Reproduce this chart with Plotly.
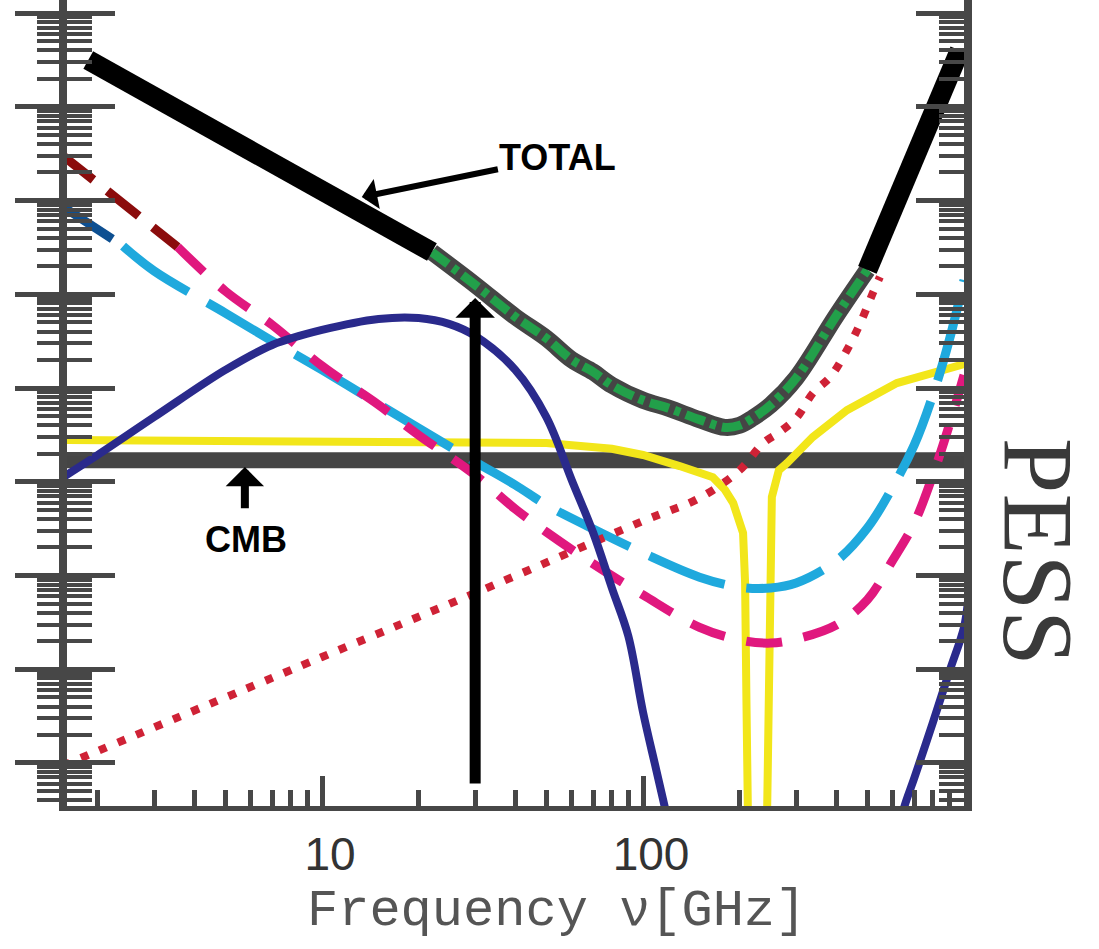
import math
import plotly.graph_objects as go

# ---------------- data ----------------
freq_total = [1.87, 5, 10, 20, 22, 30, 40, 50, 60, 70, 80, 100, 120, 150, 180, 200,
              220, 250, 300, 400, 500, 600, 700, 800, 900, 970]
total = [3.16e7, 4.75e6, 1.26e6, 3.31e5, 2.82e5, 1.26e5, 5.75e4, 3.39e4, 2.0e4, 1.48e4,
         1.07e4, 7.4e3, 6.1e3, 4.6e3, 3.8e3, 4.0e3, 4.8e3, 6.6e3, 1.28e4, 5.9e4, 1.82e5,
         7.9e5, 2.7e6, 8.2e6, 2.1e7, 4.0e7]

freq_ff = [1.55, 2, 3, 3.55, 5, 7, 10, 15, 20, 30, 40, 50, 70, 100, 150, 200, 250, 300,
           400, 500, 600, 700, 800, 900, 1000]
free_free = [3.06e6, 1.5e6, 5.1e5, 3.2e5, 1.08e5, 4.7e4, 1.72e4, 6.6e3, 3.15e3, 1.18e3,
             512, 291, 133, 62, 28, 20.5, 19, 21, 29.6, 55, 146, 363, 1.18e3, 4.03e3, 1.38e4]

freq_ame = [1.55, 2, 2.4, 3, 5, 7, 10, 15, 20, 30, 40, 50, 70, 100, 150, 200, 250, 300,
            400, 500, 600, 700, 800, 900, 1000]
ame = [8.7e5, 5.1e5, 3.27e5, 1.77e5, 6.3e4, 3.17e4, 1.56e4, 6.75e3, 3.74e3, 1.63e3, 923,
       565, 313, 174, 96, 75, 73.6, 83, 143, 321, 879, 2.47e3, 8.4e3, 3.25e4, 1.42e5]

freq_sync = [1.55, 2, 3, 5, 7, 10, 15, 20, 25, 30, 40, 50, 60, 70, 80, 90, 100, 110, 120]
sync = [1.1e3, 1.93e3, 4.9e3, 1.56e4, 2.88e4, 4.16e4, 5.45e4, 5.58e4, 4.8e4, 3.59e4,
        1.56e4, 4.9e3, 1.04e3, 284, 73.6, 22.6, 3.5, 0.84, 0.23]

freq_sync_hi = [630, 650, 700, 800, 900, 1000, 1030]
sync_hi = [0.19, 0.33, 0.69, 2.7, 9.4, 28, 55]

freq_yel = [1.55, 10, 30, 50, 80, 100, 130, 165, 180, 191, 205, 208, 210, 212, 215, 240,
            244, 246, 249, 252, 265, 281, 338, 432, 618, 1030]
yellow = [2.79e3, 2.72e3, 2.65e3, 2.59e3, 2.25e3, 1.93e3, 1.47e3, 1.12e3, 820, 593, 284,
          83, 4.7, 0.3, 0.01, 0.01, 0.3, 7.7, 146, 688, 1.33e3, 1.58e3, 3.0e3, 5.8e3,
          1.13e4, 1.85e4]

freq_dust = [1.55, 10, 30, 100, 150, 200, 237, 267, 302, 338, 383, 432, 475, 520, 547]
dust = [0.93, 13.5, 65, 381, 671, 1.33e3, 2.59e3, 3.4e3, 4.9e3, 8.8e3, 1.31e4, 2.54e4,
        4.9e4, 1.03e5, 1.53e5]

freq_cmb = [1.55, 1030]
cmb = [1.7e3, 1.7e3]

x_tick_vals = [10, 100, 1000]
x_tick_text = ["10", "100", ""]

# ---------------- styling ----------------
AX = "#474747"
fig = go.Figure()


def add(x, y, color, width, dash=None, shape="linear"):
    fig.add_trace(go.Scatter(x=x, y=y, mode="lines", hoverinfo="skip", showlegend=False,
                             line=dict(color=color, width=width, dash=dash, shape=shape)))


def part(xs, ys, lo, hi):
    pts = [(a, b) for a, b in zip(xs, ys) if lo <= a <= hi]
    return [p[0] for p in pts], [p[1] for p in pts]


add(freq_cmb, cmb, "#454545", 16)
add(freq_yel, yellow, "#f2e61a", 8)
x1, y1 = part(freq_ame, ame, 0, 2.4)
add(x1, y1, "#0d4f91", 9, "60px,22px")
x2, y2 = part(freq_ame, ame, 2.4, 2000)
add(x2, y2, "#1fa9dd", 9, "80px,22px", "spline")
x1, y1 = part(freq_ff, free_free, 0, 3.55)
add(x1, y1, "#8b0c0c", 9, "40px,18px")
x2, y2 = part(freq_ff, free_free, 3.55, 2000)
add(x2, y2, "#e0187e", 9, "36px,22px", "spline")
add(freq_dust, dust, "#cf2236", 8, "8px,12px", "spline")
add(freq_sync, sync, "#2a2a8c", 8, None, "spline")
add(freq_sync_hi, sync_hi, "#2a2a8c", 8, None, "spline")
# total
xm, ym = part(freq_total, total, 22, 500)
add(xm, ym, "#454545", 17, None, "spline")
add(xm, ym, "#22a04a", 9, "20px,6px,6px,6px", "spline")
xl, yl = part(freq_total, total, 0, 22)
add(xl, yl, "#000000", 20)
xr, yr = part(freq_total, total, 500, 2000)
add(xr, yr, "#000000", 20)

# ---------------- axes ----------------
x_minor = [m * 10 ** k for k in range(0, 3) for m in range(2, 10)]
y_major = [10.0 ** k for k in range(0, 9)]
y_minor = [m * 10.0 ** k for k in range(-1, 8) for m in range(2, 10)]

fig.update_layout(
    width=1099, height=949,
    margin=dict(l=67, r=135, t=0, b=143),
    paper_bgcolor="white", plot_bgcolor="white",
    xaxis=dict(type="log", range=[0.2056, 3.0], showgrid=False, zeroline=False,
               showline=True, linewidth=5, linecolor=AX,
               tickmode="array", tickvals=x_tick_vals, ticktext=x_tick_text,
               ticks="inside", ticklen=30, tickwidth=5, tickcolor=AX,
               ticklabelstandoff=4, ticklabelshift=8,
               tickfont=dict(family="Liberation Sans, Arial, sans-serif", size=46, color="#333333"),
               minor=dict(tickmode="array", tickvals=x_minor, ticks="inside", ticklen=16,
                          tickwidth=5, tickcolor=AX, showgrid=False)),
    yaxis=dict(type="log", range=[-0.459, 8.139], showgrid=False, zeroline=False,
               showline=True, linewidth=8, linecolor=AX, showticklabels=False,
               tickmode="array", tickvals=y_major, ticks="outside", ticklen=44,
               tickwidth=5, tickcolor=AX,
               minor=dict(tickmode="array", tickvals=y_minor, ticks="outside", ticklen=22,
                          tickwidth=4, tickcolor=AX, showgrid=False)),
    yaxis2=dict(type="log", range=[-0.459, 8.139], overlaying="y", side="left",
                showgrid=False, zeroline=False, showline=True, linewidth=8, linecolor=AX,
                mirror="ticks", showticklabels=False,
                tickmode="array", tickvals=y_major, ticks="inside", ticklen=48,
                tickwidth=5, tickcolor=AX,
                minor=dict(tickmode="array", tickvals=y_minor, ticks="inside", ticklen=25,
                           tickwidth=4, tickcolor=AX, showgrid=False)),
)
# dummy trace to activate yaxis2
fig.add_trace(go.Scatter(x=[], y=[], yaxis="y2", showlegend=False, hoverinfo="skip"))

L = math.log10
annots = [
    # TOTAL label + arrow
    dict(x=L(13.3), y=6.037, ax=L(54.3), ay=6.464, axref="x", ayref="y",
         text="<b>TOTAL</b>", showarrow=True, arrowhead=1, arrowwidth=6, arrowsize=0.85,
         arrowcolor="black", standoff=0,
         font=dict(family="Liberation Sans, Arial, sans-serif", size=36, color="black")),
    # vertical arrow at 30 GHz
    dict(x=L(30), y=4.96, ax=L(30), ay=-0.235, axref="x", ayref="y", text="",
         showarrow=True, arrowhead=1, arrowwidth=11, arrowsize=0.6, arrowcolor="black",
         standoff=0),
    # CMB arrow
    dict(x=L(5.75), y=3.157, ax=L(5.75), ay=2.70, axref="x", ayref="y", text="",
         showarrow=True, arrowhead=1, arrowwidth=8, arrowsize=0.8, arrowcolor="black",
         standoff=0),
    dict(x=L(5.8), y=2.379, xref="x", yref="y", text="<b>CMB</b>", showarrow=False,
         font=dict(family="Liberation Sans, Arial, sans-serif", size=36, color="black")),
    # right side rotated label
    dict(x=1.084, y=0.315, xref="paper", yref="paper", xanchor="center", yanchor="middle",
         text="PESS", showarrow=False, textangle=90,
         font=dict(family="Liberation Serif, Times New Roman, serif", size=100, color="#3a3a3a")),
    # x-axis title
    dict(x=0.546, y=-0.131, xref="paper", yref="paper", xanchor="center", yanchor="middle",
         text="Frequency ν[GHz]", showarrow=False,
         font=dict(family="Liberation Mono, Courier New, monospace", size=52, color="#555555")),
]
fig.update_layout(annotations=annots)

fig.write_html("out.html")
